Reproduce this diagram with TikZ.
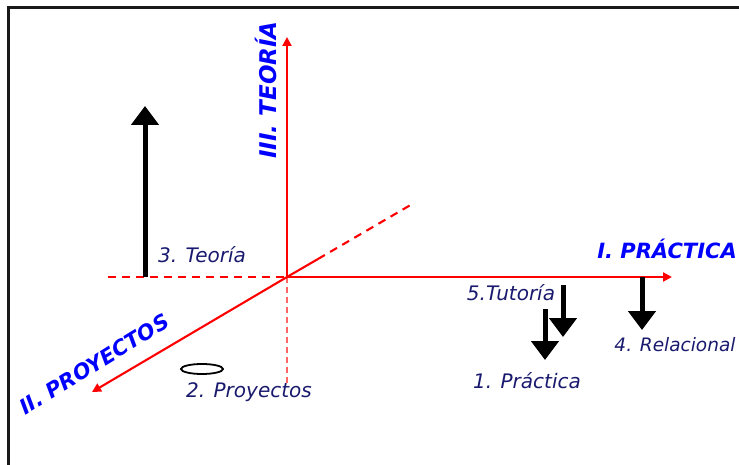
\documentclass[tikz,border=0pt]{standalone}
\usepackage{fontspec}
\setmainfont{DejaVu Sans}
\usetikzlibrary{arrows.meta,shapes.geometric}
\definecolor{axisred}{RGB}{255,0,0}
\definecolor{lblblue}{RGB}{0,0,255}
\definecolor{lblnavy}{RGB}{25,25,110}
\tikzset{
  axisline/.style={draw=axisred, line width=2.1pt, -{Triangle[length=9pt,width=9pt]}},
  axisdash/.style={draw=axisred, line width=2.1pt, dash pattern=on 8pt off 6pt},
  axisthin/.style={draw=axisred!60, line width=1.3pt, dash pattern=on 6pt off 4pt},
  bigarrow/.style={line width=5pt, -{Triangle[length=19pt,width=27pt]}},
  axlabel/.style={text=lblblue, font=\bfseries\itshape\fontsize{21}{21}\selectfont, inner sep=0pt},
  itemlabel/.style={text=lblnavy, font=\itshape\fontsize{20}{20}\selectfont, inner sep=0pt},
  framestyle/.style={line width=3pt, draw=black!90}
}
\begin{document}
\begin{tikzpicture}[x=1pt,y=-1pt]
\useasboundingbox (0,0) rectangle (739,465);
% frame
\coordinate (FL) at (8,465);
\coordinate (FTL) at (8,8);
\coordinate (FR) at (739,8);
\draw[framestyle] (FL) -- (FTL) -- (FR);
% axes
\coordinate (O) at (287,277);
\coordinate (Ztip) at (287,37);
\coordinate (Zlow) at (287,385);
\coordinate (Xtip) at (672,277);
\coordinate (Xneg) at (108,277);
\coordinate (Ytip) at (92,392);
\coordinate (Ymid) at (318,259);
\coordinate (Yneg) at (414,203);
\draw[axisline] (O) -- (Ztip);
\draw[axisthin] (O) -- (Zlow);
\draw[axisline] (O) -- (Xtip);
\draw[axisdash] (Xneg) -- (O);
\draw[axisline] (O) -- (Ytip);
\draw[draw=axisred, line width=2.1pt] (O) -- (Ymid);
\draw[axisdash] (Ymid) -- (Yneg);
% axis labels
\node[axlabel, font=\bfseries\itshape\fontsize{23}{23}\selectfont, rotate=90] (lz) at (266,90) {III. TEORÍA};
\node[axlabel] (lx) at (667,249) {I. PRÁCTICA};
\node[axlabel, rotate=31.5] (ly) at (94,364) {II. PROYECTOS};
% black arrows
\coordinate (A3s) at (145,277);
\coordinate (A3e) at (145,106);
\draw[bigarrow] (A3s) -- (A3e);
\coordinate (A5s) at (563,285);
\coordinate (A5e) at (563,337);
\draw[bigarrow] (A5s) -- (A5e);
\coordinate (A1s) at (545,309);
\coordinate (A1e) at (545,360);
\draw[bigarrow] (A1s) -- (A1e);
\coordinate (A4s) at (642,277);
\coordinate (A4e) at (642,330);
\draw[bigarrow] (A4s) -- (A4e);
% ellipse
\node[draw, ellipse, line width=1.8pt, minimum width=42pt, minimum height=10pt, inner sep=0pt] (ell) at (202,369) {};
% item labels
\node[itemlabel] (t3) at (202,255) {3. Teoría};
\node[itemlabel] (t2) at (249,392) {2. Proyectos};
\node[itemlabel] (t5) at (511,293) {5.Tutoría};
\node[itemlabel] (t1) at (527,381) {1. Práctica};
\node[itemlabel, font=\itshape\fontsize{18.5}{18.5}\selectfont] (t4) at (675,345) {4. Relacional};
\end{tikzpicture}
\end{document}
